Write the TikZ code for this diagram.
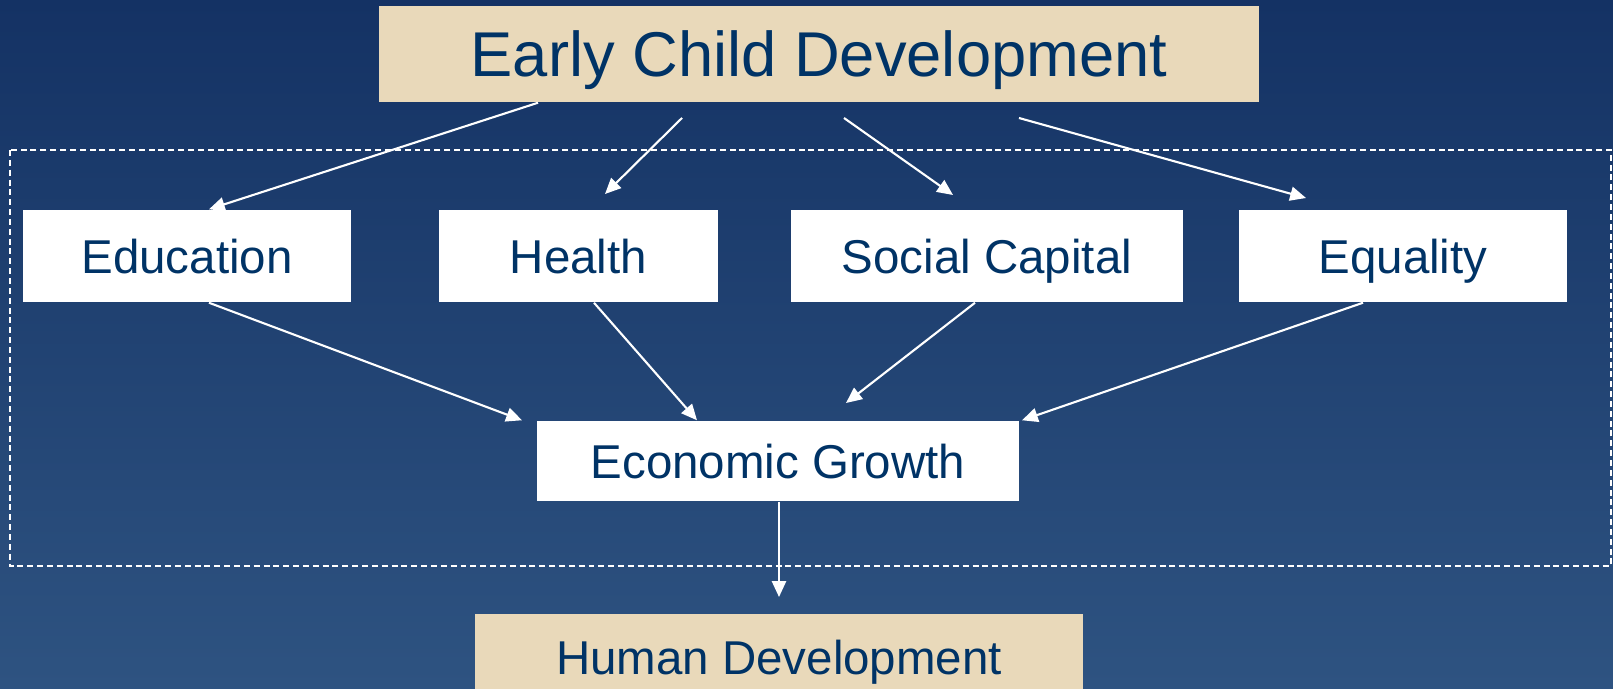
\documentclass[tikz,border=0pt]{standalone}
\usepackage{fontspec}
\setmainfont{Liberation Sans}
\usetikzlibrary{arrows.meta}
\definecolor{navytext}{RGB}{0,51,102}
\definecolor{tanbox}{RGB}{233,217,186}
\definecolor{bgtop}{RGB}{20,50,100}
\definecolor{bgbottom}{RGB}{46,83,129}
\begin{document}
\begin{tikzpicture}[x=0.01cm, y=-0.01cm,
  mainbox/.style={fill=tanbox, text=navytext, inner sep=0pt, text depth=0pt, font=\fontsize{18}{20}\selectfont},
  factor/.style={fill=white, text=navytext, inner sep=0pt, text depth=0pt, minimum height=0.92cm, font=\fontsize{13.5}{16}\selectfont},
  link/.style={white, line width=0.6pt, -{Triangle[length=4.5pt,width=4pt]}}]
  \clip (0,0) rectangle (1613,688);
  \shade [top color=bgtop, bottom color=bgbottom] (0,0) rectangle (1613,688);
  \draw [white, line width=0.45pt, dash pattern=on 1.7pt off 1.1pt] (10,150) rectangle (1611,566);
  \node [mainbox, minimum width=8.8cm, minimum height=0.96cm] (ecd) at (819,54) {Early Child Development};
  \node [factor, minimum width=3.28cm] (edu) at (187,256) {Education};
  \node [factor, minimum width=2.79cm] (health) at (578.5,256) {Health};
  \node [factor, minimum width=3.92cm] (social) at (987,256) {Social Capital};
  \node [factor, minimum width=3.28cm] (equal) at (1403,256) {Equality};
  \node [factor, minimum width=4.82cm, minimum height=0.8cm] (growth) at (778,461) {Economic Growth};
  \node [mainbox, minimum width=6.08cm, minimum height=0.86cm, font=\fontsize{13.5}{16}\selectfont] (human) at (779,657) {Human Development};
  \coordinate (ecd-h) at (682,118);
  \coordinate (ecd-s) at (844,118);
  \coordinate (ecd-q) at (1019,118);
  \coordinate (to-h) at (605,194);
  \coordinate (to-s) at (953,195);
  \coordinate (to-q) at (1306,198);
  \coordinate (to-g) at (846,403);
  \coordinate (to-hd) at (779,597);
  \draw [link] (538,0 |- ecd.south) -- (209,0 |- edu.north);
  \draw [link] (ecd-h) -- (to-h);
  \draw [link] (ecd-s) -- (to-s);
  \draw [link] (ecd-q) -- (to-q);
  \draw [link] (209,0 |- edu.south) -- (522,0 |- growth.north);
  \draw [link] (594,0 |- health.south) -- (697,0 |- growth.north);
  \draw [link] (975,0 |- social.south) -- (to-g);
  \draw [link] (1363,0 |- equal.south) -- (1022,0 |- growth.north);
  \draw [link] (779,0 |- growth.south) -- (to-hd);
\end{tikzpicture}
\end{document}
